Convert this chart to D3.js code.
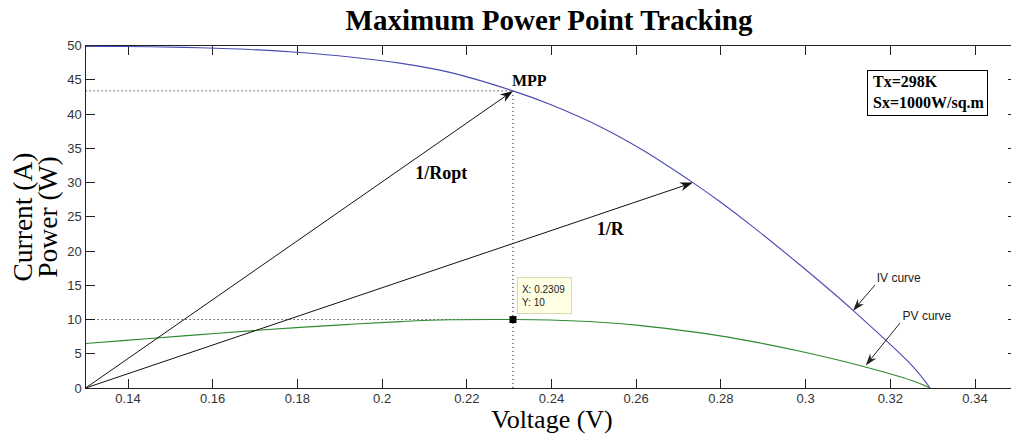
<!DOCTYPE html>
<html><head><meta charset="utf-8">
<script src="https://cdn.jsdelivr.net/npm/d3@7"></script>
<style>body{margin:0;background:#fff}svg{display:block}</style>
</head><body><svg id="c" width="1011" height="435"></svg>
<script>
// ---- data ----
const voltage = [0.13,0.1452,0.157,0.1688,0.1806,0.1924,0.2042,0.216,0.2309,0.2396,0.2515,0.2617,0.2734,0.2798,0.2869,0.2987,0.3112,0.3254,0.3294];
const current = [49.9,49.85,49.7,49.45,49.0,48.35,47.45,46.1,43.4,41.44,38.17,34.7,30.0,27.2,23.86,17.96,11.34,3.1,0];
const power   = [6.49,7.24,7.80,8.35,8.85,9.30,9.69,9.96,10.0,9.93,9.60,9.08,8.20,7.61,6.85,5.36,3.53,1.01,0];
const xTicks = [0.14,0.16,0.18,0.2,0.22,0.24,0.26,0.28,0.3,0.32,0.34];
const xTickLabels = ["0.14","0.16","0.18","0.2","0.22","0.24","0.26","0.28","0.3","0.32","0.34"];
const yTicks = [0,5,10,15,20,25,30,35,40,45,50];
const yTickLabels = ["0","5","10","15","20","25","30","35","40","45","50"];
const origin = [0.13, 0];
const mpp = [0.2309, 43.4];
const opPoint = [0.2734, 30];
const tipPoint = [0.2309, 10];
const tipText = ["X: 0.2309", "Y: 10"];
const infoText = ["Tx=298K", "Sx=1000W/sq.m"];

const svg = d3.select("#c");
svg.append("rect").attr("width",1011).attr("height",435).attr("fill","#fff");

const x = d3.scaleLinear().domain([0.13,0.35]).range([85.65,1017.35]);
const y = d3.scaleLinear().domain([0,50]).range([388,45.7]);
const X0 = x.range()[0], X1 = x.range()[1], Y0 = y.range()[0], Y1 = y.range()[1];

svg.append("defs").append("clipPath").attr("id","clip")
  .append("rect").attr("x",X0).attr("y",Y1-1).attr("width",X1-X0).attr("height",Y0-Y1+1);

const axCol = "#222";
const sans = "Liberation Sans, Arial, sans-serif";
const g = svg.append("g");
g.append("rect").attr("x",X0).attr("y",Y1).attr("width",X1-X0).attr("height",Y0-Y1)
  .attr("fill","none").attr("stroke",axCol).attr("stroke-width",1).attr("shape-rendering","crispEdges");
const tl = 9;
xTicks.forEach((t,i)=>{
  g.append("line").attr("x1",x(t)).attr("x2",x(t)).attr("y1",Y0).attr("y2",Y0-tl).attr("stroke",axCol).attr("shape-rendering","crispEdges");
  g.append("line").attr("x1",x(t)).attr("x2",x(t)).attr("y1",Y1).attr("y2",Y1+tl).attr("stroke",axCol).attr("shape-rendering","crispEdges");
  g.append("text").attr("x",x(t)).attr("y",Y0+15).attr("text-anchor","middle")
    .attr("font-family",sans).attr("font-size",13).attr("fill","#333").text(xTickLabels[i]);
});
yTicks.forEach((t,i)=>{
  g.append("line").attr("x1",X0).attr("x2",X0+tl).attr("y1",y(t)).attr("y2",y(t)).attr("stroke",axCol).attr("shape-rendering","crispEdges");
  g.append("line").attr("x1",X1).attr("x2",X1-tl).attr("y1",y(t)).attr("y2",y(t)).attr("stroke",axCol).attr("shape-rendering","crispEdges");
  g.append("text").attr("x",X0-4).attr("y",y(t)+4.5).attr("text-anchor","end")
    .attr("font-family",sans).attr("font-size",13).attr("fill","#333").text(yTickLabels[i]);
});

const serif = "Liberation Serif, Times New Roman, serif";
svg.append("text").attr("x",549).attr("y",30).attr("text-anchor","middle")
  .attr("font-family",serif).attr("font-weight","bold").attr("font-size",29).attr("fill","#000")
  .text("Maximum Power Point Tracking");
svg.append("text").attr("x",552).attr("y",428).attr("text-anchor","middle")
  .attr("font-family",serif).attr("font-size",26).attr("fill","#000").text("Voltage (V)");
svg.append("text").attr("transform","translate(32,217) rotate(-90)").attr("text-anchor","middle")
  .attr("font-family",serif).attr("font-size",27.5).attr("fill","#000").text("Current (A)");
svg.append("text").attr("transform","translate(57,217) rotate(-90)").attr("text-anchor","middle")
  .attr("font-family",serif).attr("font-size",27.5).attr("fill","#000").text("Power (W)");

const dot = {stroke:"#000","stroke-width":1,"stroke-dasharray":"1,3"};
function dl(x1,y1,x2,y2){const l=svg.append("line").attr("x1",x1).attr("y1",y1).attr("x2",x2).attr("y2",y2);for(const k in dot)l.attr(k,dot[k]);}
dl(X0, y(mpp[1]), x(mpp[0]), y(mpp[1]));
dl(x(mpp[0]), y(mpp[1]), x(mpp[0]), Y0);
dl(X0, y(tipPoint[1]), x(tipPoint[0]), y(tipPoint[1]));

const cg = svg.append("g").attr("clip-path","url(#clip)");
const lineXY = d3.line().x((d,i)=>x(voltage[i])).y(d=>y(d)).curve(d3.curveCatmullRom.alpha(0.5));
cg.append("path").attr("d",lineXY(current)).attr("fill","none").attr("stroke","#4a4ab4").attr("stroke-width",1.1);
cg.append("path").attr("d",lineXY(power)).attr("fill","none").attr("stroke","#2e8a2e").attr("stroke-width",1.1);

function arrow(p0,p1,col,len,w){
  const x1=p0[0],y1=p0[1],x2=p1[0],y2=p1[1];
  const a=Math.atan2(y2-y1,x2-x1), c=Math.cos(a), s=Math.sin(a);
  const bx=x2-len*c, by=y2-len*s;
  const nx=x2-len*0.7*c, ny=y2-len*0.7*s;
  svg.append("line").attr("x1",x1).attr("y1",y1).attr("x2",nx).attr("y2",ny).attr("stroke",col).attr("stroke-width",1);
  const pts=[[x2,y2],[bx - w*s, by + w*c],[nx,ny],[bx + w*s, by - w*c]];
  svg.append("polygon").attr("points",pts.map(p=>p.join(",")).join(" ")).attr("fill",col);
}
arrow([x(origin[0]),y(origin[1])],[x(mpp[0]),y(mpp[1])],"#111",13,4.5);
arrow([x(origin[0]),y(origin[1])],[x(opPoint[0]),y(opPoint[1])],"#111",13,4.5);
arrow([x(0.3164),y(15.05)],[x(0.3112),y(11.3)],"#222",12,4);
arrow([x(0.3223),y(9.5)],[x(0.3142),y(3.3)],"#222",12,4);

svg.append("text").attr("x",x(mpp[0])-1).attr("y",y(mpp[1])-5).attr("font-family",serif).attr("font-weight","bold").attr("font-size",16).text("MPP");
svg.append("text").attr("x",x(0.2078)).attr("y",y(30.6)).attr("font-family",serif).attr("font-weight","bold").attr("font-size",18).text("1/Ropt");
svg.append("text").attr("x",x(0.2507)).attr("y",y(22.4)).attr("font-family",serif).attr("font-weight","bold").attr("font-size",18).text("1/R");
svg.append("text").attr("x",x(0.3168)).attr("y",y(15.5)).attr("font-family",sans).attr("font-size",12).attr("fill","#222").text("IV curve");
svg.append("text").attr("x",x(0.3229)).attr("y",y(9.9)).attr("font-family",sans).attr("font-size",12).attr("fill","#222").text("PV curve");

const tx = x(tipPoint[0]), ty = y(tipPoint[1]);
svg.append("rect").attr("x",tx-3.5).attr("y",ty-3.5).attr("width",7).attr("height",7).attr("fill","#000");
svg.append("rect").attr("x",tx+4.5).attr("y",ty-42).attr("width",54).attr("height",36)
  .attr("fill","#ffffe4").attr("stroke","#d8d8b0").attr("stroke-width",1);
tipText.forEach((t,i)=>svg.append("text").attr("x",tx+9).attr("y",ty-27+i*13)
  .attr("font-family",sans).attr("font-size",10).attr("fill","#222").text(t));

svg.append("rect").attr("x",867.5).attr("y",70.5).attr("width",120).attr("height",45)
  .attr("fill","#fff").attr("stroke","#000").attr("stroke-width",1);
infoText.forEach((t,i)=>svg.append("text").attr("x",873).attr("y",87+i*21)
  .attr("font-family",serif).attr("font-weight","bold").attr("font-size",16).attr("fill","#000").text(t));
</script></body></html>
